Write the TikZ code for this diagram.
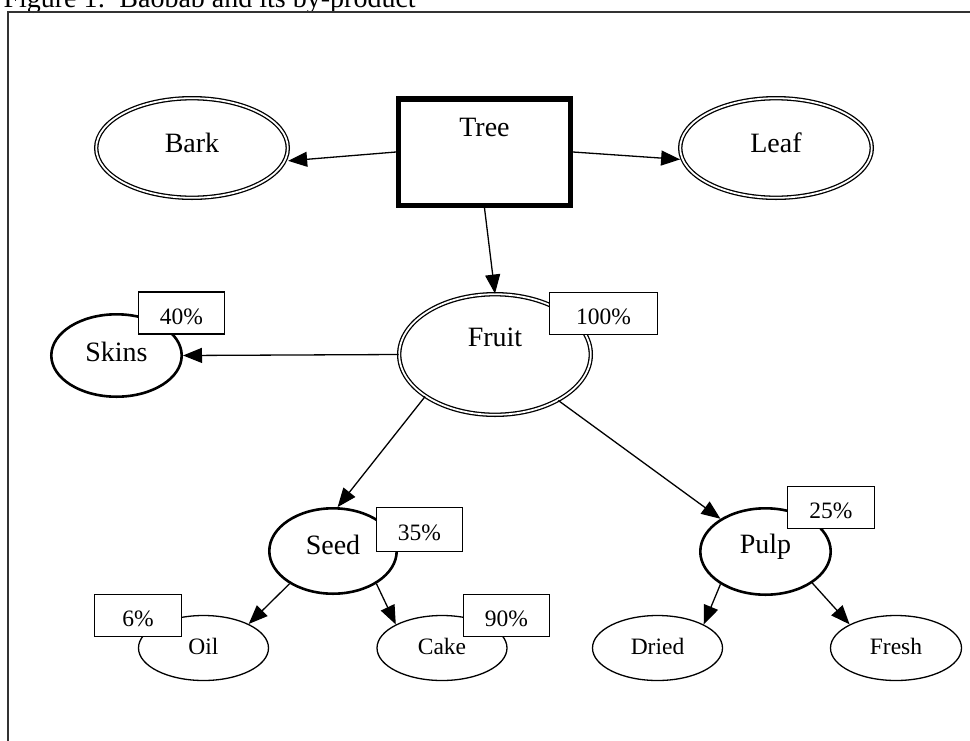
\documentclass[tikz,border=0pt]{standalone}
\usepackage{fontspec}
\setmainfont{Liberation Serif}
\usetikzlibrary{shapes.geometric,arrows.meta}

\tikzset{
  big/.style={font=\fontsize{28}{30}\selectfont},
  small/.style={font=\fontsize{23.5}{26}\selectfont},
  up/.style={text height=#1,text depth=0pt},
  down/.style={text height=0pt,text depth=#1},
  dbl/.style={ellipse,draw,line width=1.3pt,double,double distance=1.8pt,inner sep=0pt,big},
  thickell/.style={ellipse,draw,line width=2.6pt,inner sep=0pt,minimum width=130.4pt,big},
  thinell/.style={ellipse,draw,line width=1.3pt,inner sep=0pt,minimum width=130pt,minimum height=65pt,small,up=12.6pt},
  pct/.style={rectangle,draw,fill=white,line width=1.3pt,inner sep=0pt,minimum height=42pt,small,up=22.8pt},
  arr/.style={line width=1.3pt,-{Triangle[length=19pt,width=15pt]}},
}

\begin{document}
\begin{tikzpicture}[x=1pt,y=-1pt]
  \clip (0,0) rectangle (970,740);
  \fill[white] (0,0) rectangle (970,740);

  % caption and outer frame
  \node[big,anchor=base west] (caption) at (0,7) {Figure 1:\ \ Baobab and its by-product};
  \draw[black!80,line width=1.4pt] (8,12) rectangle (990,760);

  % top row
  \node[rectangle,draw,line width=5.5pt,inner sep=0pt,minimum width=171.6pt,minimum height=106.5pt,big,down=31.4pt] (tree) at (484.5,152) {Tree};
  \node[dbl,minimum width=191.6pt,minimum height=99.6pt,up=8.6pt] (bark) at (192,148) {Bark};
  \node[dbl,minimum width=191.6pt,minimum height=99.6pt,up=8.6pt] (leaf) at (776,148) {Leaf};

  % fruit level
  \node[dbl,minimum width=191.6pt,minimum height=120.6pt,down=15.4pt] (fruit) at (495,354.5) {Fruit};
  \node[thickell,minimum height=82.4pt,up=11.6pt] (skins) at (116.5,355.5) {Skins};

  % seed and pulp
  \node[thickell,minimum width=127.4pt,minimum height=85.4pt,up=6.6pt] (seed) at (333,551) {Seed};
  \node[thickell,minimum height=86.4pt,up=3.6pt] (pulp) at (765.5,551.5) {Pulp};

  % products
  \node[thinell] (oil) at (203.5,648) {Oil};
  \node[thinell] (cake) at (442,648) {Cake};
  \node[thinell] (dried) at (657.5,648) {Dried};
  \node[thinell,minimum width=131pt] (fresh) at (896,648) {Fresh};

  % connectors
  \draw[arr,shorten >=3pt] (tree.west) -- (bark.-8);
  \draw[arr,shorten >=2pt] (tree.east) -- (leaf.187);
  \draw[arr] (tree.south) -- (fruit.north);
  \draw[arr] (fruit.west) -- (skins.east);
  \draw[arr] (fruit.211) -- (seed.84);
  \draw[arr] (fruit.-36) -- (pulp.144);
  \draw[arr] (seed.217) -- (oil.28);
  \draw[arr] (seed.-37) -- (cake.153);
  \draw[arr] (pulp.216) -- (dried.27);
  \draw[arr] (pulp.-34) -- (fresh.153);

  % share labels
  \node[pct,minimum width=86pt] (p40) at (181.5,313) {40\%};
  \node[pct,minimum width=108pt] (p100) at (603.5,313.5) {100\%};
  \node[pct,minimum width=86pt,minimum height=44pt] (p35) at (419.5,529.5) {35\%};
  \node[pct,minimum width=87pt] (p6) at (138,615.5) {6\%};
  \node[pct,minimum width=86pt] (p90) at (506.5,615.5) {90\%};
  \node[pct,minimum width=87pt] (p25) at (831,507.5) {25\%};
\end{tikzpicture}
\end{document}
